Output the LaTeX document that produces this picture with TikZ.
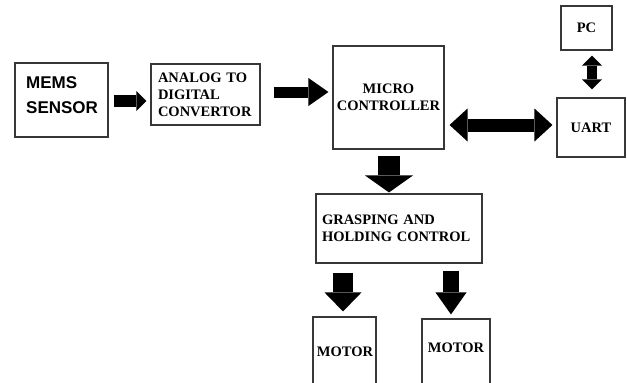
\documentclass[tikz,border=0pt]{standalone}
\usepackage{fontspec}
\setmainfont{Liberation Serif}
\newfontfamily\arialfont{Liberation Sans}
\usetikzlibrary{arrows.meta,calc}
\definecolor{boxgray}{RGB}{55,55,55}
\newcommand{\serifb}{\bfseries\fontsize{14.5}{17}\selectfont}
\begin{document}
\begin{tikzpicture}[x=1pt,y=-1pt,
  box/.style={draw=boxgray,line width=1.1pt,inner sep=0pt},
  lbl/.style={inner sep=0pt,font=\serifb},
  arr/.style n args={3}{line width=#1,-{Triangle[width=#2,length=#3,line width=0pt]}},
  darr/.style n args={3}{line width=#1,{Triangle[width=#2,length=#3,line width=0pt]}-{Triangle[width=#2,length=#3,line width=0pt]}}]
\useasboundingbox (0,0) rectangle (627,383);
\clip (0,0) rectangle (627,383);
\fill[white] (0,0) rectangle (627,383);

\node[box,minimum width=93pt,minimum height=74pt] (mems) at (61.5,100) {};
\node[anchor=west,align=left,inner sep=0pt,font=\arialfont\bfseries\fontsize{17}{25}\selectfont] (memsT) at (26,95.5) {MEMS\\SENSOR};

\node[box,minimum width=109pt,minimum height=61pt,text width=95pt,inner xsep=7pt,align=left,font=\serifb] (adc) at (205.5,94.5) {ANALOG TO\\DIGITAL\\CONVERTOR};
\node[box,minimum width=111pt,minimum height=103pt,align=center,font=\serifb] (mc) at (388.5,97.5) {MICRO\\CONTROLLER};
\node[box,minimum width=68pt,minimum height=59pt,font=\serifb] (uart) at (591,127.5) {UART};
\node[box,minimum width=51pt,minimum height=44pt,font=\serifb] (pc) at (586.5,28) {PC};
\node[box,minimum width=166pt,minimum height=69pt,text width=154pt,inner xsep=6pt,align=left,font=\serifb] (grasp) at (399,228.5) {GRASPING AND\\HOLDING CONTROL};
\node[box,minimum width=63pt,minimum height=78pt] (m1) at (344.5,356) {};
\node[lbl] (m1T) at (345,352) {MOTOR};
\node[box,minimum width=68pt,minimum height=76pt] (m2) at (456,357) {};
\node[lbl] (m2T) at (456,348) {MOTOR};

\draw[arr={12pt}{20pt}{10pt}] ($(mems.east)+(5,1)$) -- ($(mems.east -| adc.west)+(-4,1)$);
\draw[arr={11pt}{28pt}{20pt}] ($(adc.east)+(13,-2.5)$) -- ($(adc.east -| mc.west)+(-4,-2.5)$);
\draw[darr={13pt}{33pt}{18pt}] ($(uart.west -| mc.east)+(5,-2.5)$) -- ($(uart.west)+(-4,-2.5)$);
\draw[darr={10pt}{20pt}{10pt}] ($(pc.south)+(5.5,5)$) -- ($(pc.south |- uart.north)+(5.5,-8)$);
\draw[arr={22pt}{48pt}{17pt}] ($(mc.south)+(0.5,6)$) -- ($(mc.south |- grasp.north)+(0.5,-1)$);
\draw[arr={20pt}{37pt}{19pt}] ($(grasp.south -| m1.north)+(-1.5,9)$) -- ($(m1.north)+(-1.5,-5)$);
\draw[arr={16pt}{31pt}{22pt}] ($(grasp.south -| m2.north)+(-5,7)$) -- ($(m2.north)+(-5,-4)$);
\end{tikzpicture}
\end{document}
